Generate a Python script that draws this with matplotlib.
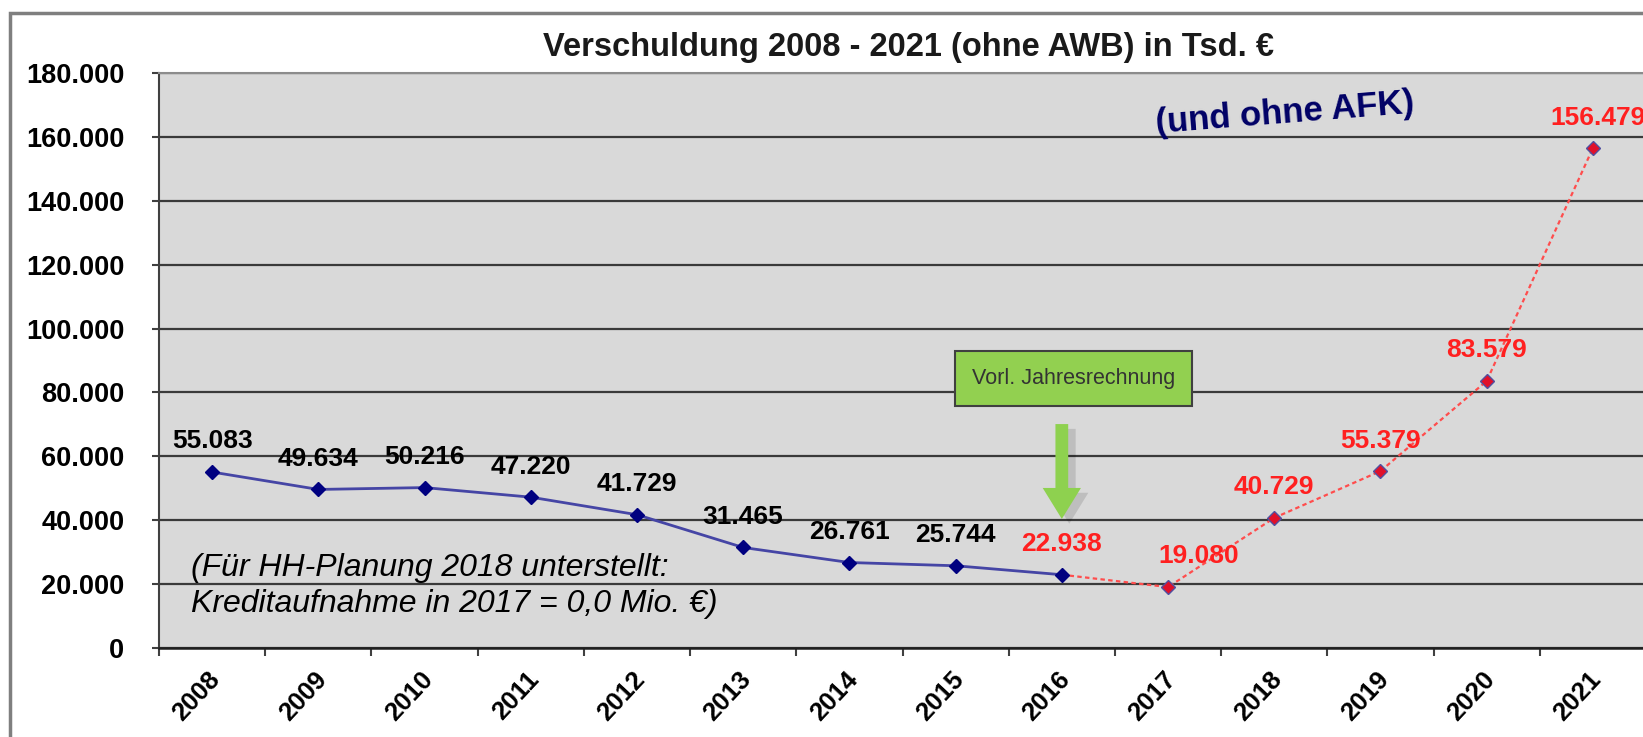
import matplotlib.pyplot as plt
import matplotlib.transforms as mtransforms
from matplotlib.ticker import FuncFormatter, MultipleLocator
from matplotlib.patches import Rectangle, FancyArrow

plt.rcParams['font.family'] = ['Liberation Sans', 'DejaVu Sans']

# Daten (Tsd. EUR)
jahre = [str(j) for j in range(2008, 2022)]
schulden = [55083, 49634, 50216, 47220, 41729, 31465, 26761, 25744,
            22938, 19080, 40729, 55379, 83579, 156479]
ist_bis = 9  # 2008-2016 Ist, ab 2016 Planung (rot)


def de(v):
    return f"{v:,.0f}".replace(",", ".")


fig = plt.figure(figsize=(16.43, 7.37), dpi=100)
ax = fig.add_axes([159 / 1643, 1 - 648 / 737, (1646 - 159) / 1643, (648 - 73) / 737])
xi = list(range(len(jahre)))

ax.set_facecolor('#D9D9D9')
ax.set_xlim(-0.5, len(jahre) - 0.5)
ax.set_ylim(0, 180000)
ax.yaxis.set_major_locator(MultipleLocator(20000))
ax.yaxis.set_major_formatter(FuncFormatter(lambda v, p: de(v)))
ax.grid(axis='y', color='#3A3A3A', lw=1.6)
ax.set_axisbelow(True)

# Ist-Werte
ax.plot(xi[:ist_bis], schulden[:ist_bis], color='#4545A5', lw=2, marker='D', ms=7,
        mfc='#000080', mec='#000080', zorder=4)
# Planung
ax.plot(xi[ist_bis - 1:], schulden[ist_bis - 1:], color='#FF4D4D', lw=1.6,
        ls=(0, (2, 1.5)), marker='D', ms=7, mfc='#E0102A', mec='#5050A0',
        markevery=list(range(1, len(jahre) - ist_bis + 1)), zorder=3)

versatz = {'2017': 22, '2021': 4}
for i, v in enumerate(schulden):
    farbe = 'black' if i < ist_bis - 1 else '#FF2020'
    ax.annotate(de(v), (i, v), xytext=(versatz.get(jahre[i], 0), 22),
                textcoords='offset points', ha='center', va='center',
                fontsize=19, fontweight='bold', color=farbe, annotation_clip=False)

# Achsen
ax.set_xticks(xi)
ax.set_xticklabels(jahre, rotation=47, ha='right', va='center', rotation_mode='anchor',
                   fontsize=18.5, fontweight='bold')
ax.set_xticks([i - 0.5 for i in range(len(jahre) + 1)], minor=True)
ax.tick_params(axis='x', which='major', length=0, pad=20)
ax.tick_params(axis='x', which='minor', length=6, width=1.5, color='#404040')
offset = mtransforms.ScaledTranslation(3 / 72, 0, fig.dpi_scale_trans)
for lab in ax.get_xticklabels():
    lab.set_transform(lab.get_transform() + offset)
ax.tick_params(axis='y', length=5, width=1.5, color='#404040', pad=20, labelsize=19.5)
for lab in ax.get_yticklabels():
    lab.set_fontweight('bold')

ax.spines['left'].set_color('#404040')
ax.spines['left'].set_linewidth(1.5)
ax.spines['bottom'].set_color('#202020')
ax.spines['bottom'].set_linewidth(1.8)
ax.spines['top'].set_color('#8C8C8C')
ax.spines['top'].set_linewidth(1.5)
ax.spines['right'].set_visible(False)

# Titel und Hinweise
fig.text(0.553, 0.936, 'Verschuldung 2008 - 2021 (ohne AWB) in Tsd. €', ha='center',
         va='center', fontsize=23.5, fontweight='bold', color='#1A1A1A')
ax.text(10.1, 167500, '(und ohne AFK)', rotation=4.5, fontsize=25, fontweight='bold',
        color='#000066', ha='center', va='center')
ax.text(-0.2, 19500, "(Für HH-Planung 2018 unterstellt:\nKreditaufnahme in 2017 = 0,0 Mio. €)",
        style='italic', fontsize=23, ha='left', va='center', linespacing=1.25)

# Pfeil + Kasten
ax.add_patch(FancyArrow(8.07, 68600, 0, -29700, width=0.12, head_width=0.36,
                        head_length=9700, length_includes_head=True, color='#000000',
                        alpha=0.12, lw=0, zorder=4))
ax.add_patch(FancyArrow(8, 70100, 0, -29700, width=0.12, head_width=0.36,
                        head_length=9700, length_includes_head=True, color='#8ED14F',
                        lw=0, zorder=5))
ax.text(8.11, 84400, 'Vorl. Jahresrechnung', ha='center', va='center', fontsize=15.5,
        color='#333333', zorder=6,
        bbox=dict(boxstyle='square,pad=0.8', fc='#92D050', ec='#404040', lw=1.5))

# äußerer Rahmen
fig.add_artist(Rectangle((10 / 1643, -0.1), 1.2, 1.1 - 13 / 737, transform=fig.transFigure,
                         fill=False, ec='#7F7F7F', lw=2.5))

fig.savefig('out.png', dpi=100)
